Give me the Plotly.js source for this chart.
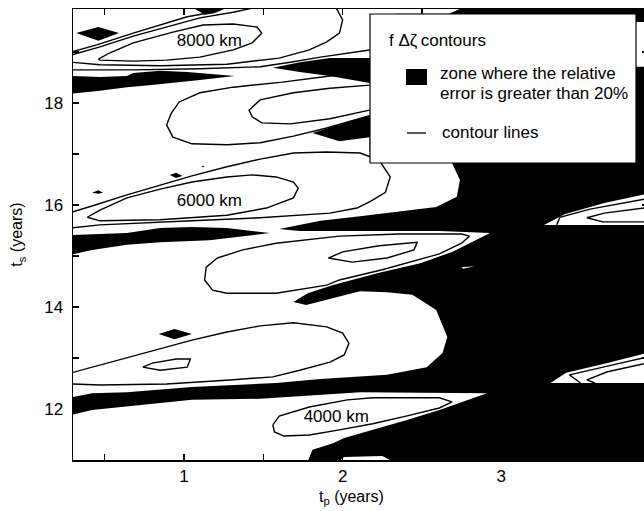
<!DOCTYPE html>
<html><head><meta charset="utf-8">
<script src="https://cdn.plot.ly/plotly-3.0.1.min.js"></script>
<style>html,body{margin:0;padding:0;overflow:hidden;background:#fff}#chart{width:648px;height:511px}</style>
</head><body><div id="chart"></div><script>
// axis ticks
const tpTicks = [1, 2, 3];
const tpMinorTicks = [0.5, 1.5, 2.5, 3.5];
const tsTicks = [12, 14, 16, 18];
const tsMinorTicks = [13, 15, 17, 19];

// zones where the relative error is greater than 20% (outlines, t_p / t_s in years)
const zoneMain_tp = [2.78,3.95,3.95,3.81,3.81,3.95,3.95,3.65,3.40,3.27,3.95,3.95,3.67,3.41,3.31,3.95,3.95,1.77,1.81,1.94,2.01,2.19,2.40,2.61,2.91,2.11,1.48,1.05,0.74,0.42,0.28,0.28,0.42,0.64,1.05,1.58,1.86,2.06,2.28,2.53,2.63,2.66,2.59,2.44,2.28,2.11,1.94,1.77,1.69,1.78,1.94,2.11,2.23,2.49,2.69,2.93,2.61,2.36,1.98,1.73,1.60,1.86,2.11,2.28,2.59,2.72,2.74,2.69,2.61,2.36,2.17,2.17,1.98,1.81,1.98,2.17,2.33,2.33,2.17,1.92,1.73,1.56,1.73,1.92,2.17,2.33,2.33,2.67];
const zoneMain_ts = [19.9,19.9,19.59,19.59,18.71,18.71,16.24,16.04,15.82,15.61,15.61,13.12,12.90,12.71,12.51,12.51,10.9,10.9,11.20,11.33,11.43,11.59,11.78,11.98,12.31,12.33,12.20,12.18,12.08,11.98,11.88,12.22,12.31,12.33,12.43,12.51,12.59,12.63,12.67,12.82,13.10,13.41,13.94,14.24,14.29,14.31,14.18,14.04,14.10,14.27,14.43,14.57,14.67,14.86,15.08,15.45,15.49,15.49,15.49,15.49,15.53,15.69,15.78,15.84,15.96,16.16,16.49,16.82,16.92,16.98,17.04,17.33,17.25,17.41,17.57,17.76,17.82,18.35,18.39,18.53,18.61,18.69,18.80,18.88,18.88,18.94,19.75,19.75];
const zoneD1_tp = [0.32,0.46,0.59,0.46];
const zoneD1_ts = [19.37,19.49,19.37,19.22];
const zoneT1_tp = [1.04,1.30,1.19,1.13];
const zoneT1_ts = [19.9,19.9,19.76,19.73];
const zoneB1_tp = [0.28,0.47,0.64,0.68,0.85,1.02,1.32,1.10,0.78,0.64,0.47,0.28];
const zoneB1_ts = [18.53,18.51,18.53,18.59,18.63,18.61,18.53,18.45,18.35,18.31,18.24,18.18];
const zoneB3_tp = [0.28,0.64,0.85,1.05,1.27,1.54,1.16,0.85,0.64,0.42,0.28];
const zoneB3_ts = [15.41,15.45,15.55,15.57,15.55,15.45,15.31,15.27,15.22,15.12,15.02];
const zoneS1_tp = [0.42,0.46,0.49,0.46];
const zoneS1_ts = [16.24,16.29,16.24,16.22];
const zoneS2_tp = [0.91,0.95,0.99,0.95];
const zoneS2_ts = [16.59,16.63,16.57,16.53];
const zoneS3_tp = [1.11,1.12,1.13,1.12];
const zoneS3_ts = [16.75,16.77,16.75,16.74];
const zoneD2_tp = [0.84,0.94,1.05,0.94];
const zoneD2_ts = [13.47,13.57,13.47,13.37];

// small low-error holes inside the black zone
const holeA_tp = [2.75,2.83,2.76];
const holeA_ts = [14.78,14.80,14.75];
const holeB_tp = [1.95,2.01,2.25,2.36];
const holeB_ts = [10.9,11.06,11.08,10.9];

// contour lines of f Δζ
const c1_tp = [0.29,0.45,0.68,0.89,1.02,1.18];
const c1_ts = [19.0,19.14,19.37,19.57,19.69,19.78];
const c2_tp = [0.29,0.47,0.68,0.93,1.10,1.31,1.43];
const c2_ts = [18.94,19.10,19.31,19.53,19.67,19.78,19.86];
const c3_tp = [0.46,0.53,0.68,0.93,1.12,1.31,1.46,1.49,1.43,1.31,1.10,0.89,0.68,0.47,0.46];
const c3_ts = [18.86,18.98,19.18,19.39,19.53,19.55,19.49,19.37,19.18,19.04,18.90,18.84,18.82,18.84,18.86];
const c4_tp = [0.29,0.47,0.85,1.27,1.60,1.79,1.90,1.98,2.00,1.96];
const c4_ts = [18.80,18.75,18.73,18.76,18.88,19.04,19.20,19.37,19.63,19.86];
const c5_tp = [0.29,0.68,1.10,1.48,1.67,1.86,2.17];
const c5_ts = [18.65,18.65,18.67,18.71,18.80,18.90,19.04];
const c6_tp = [2.17,1.92,1.62,1.31,1.10,0.97,0.92,0.89,0.93,1.05,1.27,1.48,1.69,1.90,2.17];
const c6_ts = [18.61,18.53,18.41,18.31,18.20,18.02,17.80,17.57,17.33,17.20,17.18,17.22,17.35,17.51,17.75];
const c7_tp = [2.17,1.92,1.69,1.48,1.41,1.43,1.49,1.67,1.92,2.17];
const c7_ts = [18.35,18.29,18.20,18.06,17.86,17.73,17.61,17.59,17.69,17.86];
const c8_tp = [0.29,0.42,0.64,0.85,1.05,1.27,1.48,1.69,1.90,2.11,2.23,2.30,2.27,2.17,2.09,1.92,1.48,1.05,0.64,0.47,0.29];
const c8_ts = [15.86,15.98,16.20,16.39,16.57,16.75,16.90,17.02,17.04,17.02,16.88,16.55,16.25,16.06,15.94,15.84,15.75,15.69,15.63,15.61,15.55];
const c9_tp = [0.39,0.47,0.85,1.27,1.52,1.69,1.72,1.69,1.58,1.43,1.27,1.05,0.85,0.64,0.47,0.39];
const c9_ts = [15.76,15.69,15.71,15.80,15.94,16.14,16.33,16.45,16.55,16.59,16.55,16.45,16.31,16.14,15.90,15.76];
const c10_tp = [1.21,1.37,1.58,1.98,2.36,2.75,2.80,2.75,2.61,2.25,1.98,1.90,1.58,1.27,1.18,1.13,1.14,1.21];
const c10_ts = [14.96,15.12,15.25,15.39,15.43,15.43,15.39,15.25,15.04,14.73,14.53,14.43,14.27,14.27,14.33,14.53,14.78,14.96];
const c11_tp = [1.91,2.00,2.23,2.47,2.45,2.28,2.06,1.91];
const c11_ts = [14.96,15.08,15.20,15.27,15.12,14.96,14.88,14.96];
const c12_tp = [0.29,0.42,0.64,0.85,1.05,1.27,1.48,1.69,1.90,2.00,2.04,2.01,1.92,1.73,1.56,1.29,0.89,0.47,0.29];
const c12_ts = [12.71,12.82,13.0,13.18,13.35,13.51,13.63,13.69,13.61,13.49,13.29,13.06,12.92,12.76,12.63,12.57,12.49,12.47,12.49];
const c13_tp = [0.74,0.80,0.95,1.04,1.02,0.85,0.74];
const c13_ts = [12.82,12.90,12.98,12.98,12.82,12.76,12.82];
const c14_tp = [1.56,1.60,1.79,2.03,2.19,2.61,2.69,2.61,2.40,2.19,1.98,1.79,1.63,1.57,1.56];
const c14_ts = [11.69,11.86,12.04,12.18,12.22,12.22,12.14,12.02,11.86,11.71,11.59,11.49,11.47,11.55,11.69];
const c15_tp = [3.35,3.37,3.56,3.95];
const c15_ts = [15.61,15.76,15.92,16.14];
const c16_tp = [3.95,3.65,3.54,3.64,3.95];
const c16_ts = [15.96,15.84,15.75,15.67,15.67];
const c17_tp = [3.50,3.43,3.67,3.95];
const c17_ts = [12.51,12.67,12.84,13.04];
const c18_tp = [3.95,3.67,3.54,3.59];
const c18_ts = [12.92,12.73,12.57,12.51];

// contour value labels
const label_tp = [1.16, 1.16, 1.96];
const label_ts = [19.20, 16.06, 11.82];
const label_text = ['8000 km', '6000 km', '4000 km'];

const FONT = '"Liberation Sans", Arial, Helvetica, sans-serif';
const traces = [];
const fillPoly = (x, y, color) => traces.push({
  type: 'scatter', mode: 'lines', x: x, y: y, fill: 'toself', fillcolor: color,
  line: {width: 0, color: color}, hoverinfo: 'skip', showlegend: false
});
[[zoneMain_tp, zoneMain_ts],[zoneD1_tp, zoneD1_ts],[zoneT1_tp, zoneT1_ts],[zoneB1_tp, zoneB1_ts],
 [zoneB3_tp, zoneB3_ts],[zoneS1_tp, zoneS1_ts],[zoneS2_tp, zoneS2_ts],[zoneS3_tp, zoneS3_ts],
 [zoneD2_tp, zoneD2_ts]].forEach(p => fillPoly(p[0], p[1], '#000000'));
[[holeA_tp, holeA_ts],[holeB_tp, holeB_ts]].forEach(p => fillPoly(p[0], p[1], '#ffffff'));

[[c1_tp,c1_ts],[c2_tp,c2_ts],[c3_tp,c3_ts],[c4_tp,c4_ts],[c5_tp,c5_ts],[c6_tp,c6_ts],[c7_tp,c7_ts],
 [c8_tp,c8_ts],[c9_tp,c9_ts],[c10_tp,c10_ts],[c11_tp,c11_ts],[c12_tp,c12_ts],[c13_tp,c13_ts],
 [c14_tp,c14_ts],[c15_tp,c15_ts],[c16_tp,c16_ts],[c17_tp,c17_ts],[c18_tp,c18_ts]].forEach(c => traces.push({
  type: 'scatter', mode: 'lines', x: c[0], y: c[1], line: {color: '#000', width: 1.4},
  hoverinfo: 'skip', showlegend: false
}));

traces.push({
  type: 'scatter', mode: 'text', x: label_tp, y: label_ts, text: label_text,
  textposition: 'middle center', textfont: {family: FONT, size: 17, color: '#000'},
  hoverinfo: 'skip', showlegend: false
});

// legend drawn in paper coordinates
const PW = 575, PH = 451, L = 73, T = 9;
const px = v => (v - L) / PW;
const py = v => (T + PH - v) / PH;

const tickStyle = {ticks: 'inside', ticklen: 6, tickwidth: 1.2, tickcolor: '#000'};
const layout = {
  width: 648, height: 511,
  margin: {l: 73, r: 0, t: 9, b: 51, pad: 0},
  paper_bgcolor: '#fff', plot_bgcolor: '#fff',
  font: {family: FONT, size: 16, color: '#000'},
  xaxis: Object.assign({
    range: [0.3, 3.9255], tickmode: 'array', tickvals: tpTicks,
    minor: Object.assign({tickmode: 'array', tickvals: tpMinorTicks, showgrid: false}, tickStyle),
    showline: true, linecolor: '#000', linewidth: 1.5, mirror: 'ticks',
    showgrid: false, zeroline: false, tickfont: {family: FONT, size: 17, color: '#000'}
  }, tickStyle),
  yaxis: Object.assign({
    range: [11, 19.843], tickmode: 'array', tickvals: tsTicks,
    minor: Object.assign({tickmode: 'array', tickvals: tsMinorTicks, showgrid: false}, tickStyle),
    showline: true, linecolor: '#000', linewidth: 1.5, mirror: 'ticks',
    showgrid: false, zeroline: false, tickfont: {family: FONT, size: 17, color: '#000'},
    ticklabelstandoff: 5,
    title: {text: 't<sub>s</sub> (years)', font: {family: FONT, size: 16, color: '#000'}, standoff: 17}
  }, tickStyle),
  shapes: [
    {type: 'rect', xref: 'paper', yref: 'paper', x0: px(370), x1: px(636), y0: py(163), y1: py(14),
     fillcolor: '#fff', line: {color: '#000', width: 1.2}, layer: 'above'},
    {type: 'rect', xref: 'paper', yref: 'paper', x0: px(406), x1: px(427), y0: py(85), y1: py(69),
     fillcolor: '#000', line: {width: 0}, layer: 'above'},
    {type: 'line', xref: 'paper', yref: 'paper', x0: px(407), x1: px(426), y0: py(133), y1: py(133),
     line: {color: '#000', width: 1.3}, layer: 'above'}
  ],
  annotations: [
    {xref: 'paper', yref: 'paper', x: px(387), y: py(40), xanchor: 'left', yanchor: 'middle',
     text: 'f Δζ\u2009contours', showarrow: false, font: {family: FONT, size: 17, color: '#000'}},
    {xref: 'paper', yref: 'paper', x: px(438), y: py(73.5), xanchor: 'left', yanchor: 'middle',
     text: 'zone where the relative', showarrow: false, font: {family: FONT, size: 17, color: '#000'}},
    {xref: 'paper', yref: 'paper', x: px(438), y: py(93.5), xanchor: 'left', yanchor: 'middle',
     text: 'error is greater than 20%', showarrow: false, font: {family: FONT, size: 17, color: '#000'}},
    {xref: 'paper', yref: 'paper', x: px(440), y: py(132), xanchor: 'left', yanchor: 'middle',
     text: 'contour lines', showarrow: false, font: {family: FONT, size: 17, color: '#000'}},
    {xref: 'paper', yref: 'paper', x: px(351), y: 0, xanchor: 'center', yanchor: 'middle', yshift: -37,
     text: 't<sub>p</sub> (years)', showarrow: false, font: {family: FONT, size: 16, color: '#000'}}
  ],
  showlegend: false
};

Plotly.newPlot('chart', traces, layout, {staticPlot: true, displayModeBar: false});
</script></body></html>
